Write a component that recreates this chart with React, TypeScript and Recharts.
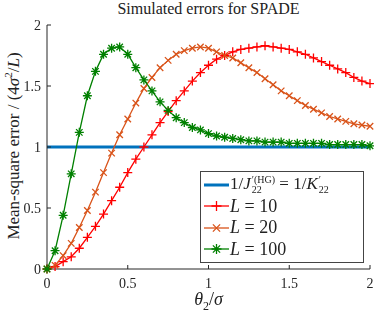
import React from 'react';
import { LineChart, Line, XAxis, YAxis } from 'recharts';

const thetas = [
  0, 0.05, 0.1, 0.15, 0.2, 0.25, 0.3, 0.35, 0.4, 0.45, 0.5, 0.55, 0.6, 0.65, 0.7, 0.75, 0.8, 0.85, 0.9, 0.95,
  1, 1.05, 1.1, 1.15, 1.2, 1.25, 1.3, 1.35, 1.4, 1.45, 1.5, 1.55, 1.6, 1.65, 1.7, 1.75, 1.8, 1.85, 1.9, 1.95, 2,
];
const bound = thetas.map(() => 1);
const errL10 = [
  0, 0.02, 0.06, 0.1, 0.17, 0.26, 0.35, 0.45, 0.56, 0.67, 0.79, 0.9, 1.0, 1.1, 1.2, 1.29, 1.38, 1.46, 1.54, 1.61,
  1.67, 1.72, 1.75, 1.78, 1.8, 1.81, 1.82, 1.83, 1.82, 1.81, 1.8, 1.78, 1.76, 1.73, 1.7, 1.67, 1.64, 1.61, 1.57, 1.54, 1.52,
];
const errL20 = [
  0, 0.03, 0.11, 0.21, 0.34, 0.48, 0.63, 0.79, 0.95, 1.1, 1.23, 1.36, 1.48, 1.57, 1.65, 1.71, 1.76, 1.79, 1.81, 1.82,
  1.81, 1.78, 1.75, 1.73, 1.69, 1.65, 1.61, 1.56, 1.51, 1.46, 1.42, 1.38, 1.34, 1.31, 1.28, 1.25, 1.23, 1.21, 1.19, 1.18, 1.17,
];
const errL100 = [
  0, 0.15, 0.44, 0.78, 1.12, 1.42, 1.62, 1.76, 1.81, 1.82, 1.76, 1.65, 1.55, 1.46, 1.37, 1.3, 1.24, 1.2, 1.16, 1.14,
  1.11, 1.09, 1.08, 1.07, 1.06, 1.05, 1.05, 1.04, 1.04, 1.04, 1.03, 1.03, 1.03, 1.03, 1.03, 1.02, 1.02, 1.02, 1.02, 1.02, 1.01,
];
const axisTicks = [0, 0.5, 1, 1.5, 2];

const data = thetas.map((t, i) => ({
  t,
  bound: bound[i],
  l10: errL10[i],
  l20: errL20[i],
  l100: errL100[i],
}));

const BLUE = '#0072BD';
const RED = '#FF0000';
const ORANGE = '#D95319';
const GREEN = '#008000';
const SERIF = '"Liberation Serif", "DejaVu Serif", serif';

type Marker = 'plus' | 'cross' | 'star';

function markerPath(kind: Marker, x: number, y: number, r: number) {
  const plus = `M${x - r},${y}H${x + r}M${x},${y - r}V${y + r}`;
  const d = r * 0.72;
  const cross = `M${x - d},${y - d}L${x + d},${y + d}M${x - d},${y + d}L${x + d},${y - d}`;
  if (kind === 'plus') return plus;
  if (kind === 'cross') return cross;
  return plus + cross;
}

const makeDot = (kind: Marker, color: string, r: number) => (props: any) => {
  const { cx, cy, index } = props;
  if (cx == null || cy == null) return <g key={index} />;
  return <path key={index} d={markerPath(kind, cx, cy, r)} stroke={color} strokeWidth={1.3} fill="none" />;
};

const legendRows = [
  { kind: 'line', color: BLUE },
  { kind: 'plus', color: RED, label: '10' },
  { kind: 'cross', color: ORANGE, label: '20' },
  { kind: 'star', color: GREEN, label: '100' },
];

const stack: React.CSSProperties = {
  display: 'inline-flex',
  flexDirection: 'column',
  verticalAlign: 'middle',
  lineHeight: '10px',
  fontSize: 10,
  fontStyle: 'normal',
  marginLeft: 1,
};

function LegendBox() {
  return (
    <div
      style={{
        position: 'absolute',
        left: 200,
        top: 171,
        width: 164,
        height: 92,
        border: '1px solid #444',
        background: '#fff',
        fontFamily: SERIF,
        fontSize: 18,
        padding: '2px 2px',
        boxSizing: 'border-box',
        color: '#222',
      }}
    >
      {legendRows.map((row, i) => (
        <div key={i} style={{ display: 'flex', alignItems: 'center', height: 21.5 }}>
          <svg width={27} height={16} style={{ flex: 'none' }}>
            {row.kind === 'line' ? (
              <line x1={1} x2={26} y1={8} y2={8} stroke={BLUE} strokeWidth={3} />
            ) : (
              <>
                <line x1={1} x2={26} y1={8} y2={8} stroke={row.color} strokeWidth={1.3} />
                <path d={markerPath(row.kind as Marker, 13.5, 8, 5)} stroke={row.color} strokeWidth={1.3} fill="none" />
              </>
            )}
          </svg>
          {row.kind === 'line' ? (
            <span style={{ whiteSpace: 'nowrap', fontSize: 17 }}>
              1/<i>J</i>
              <span style={stack}>
                <span>′(HG)</span>
                <span>22</span>
              </span>
              {' '}= 1/<i>K</i>
              <span style={stack}>
                <span>′</span>
                <span>22</span>
              </span>
            </span>
          ) : (
            <span style={{ whiteSpace: 'pre' }}>
              <i>L</i> = {row.label}
            </span>
          )}
        </div>
      ))}
    </div>
  );
}

export default function App() {
  return (
    <div style={{ position: 'fixed', left: 0, top: 0, width: 374, height: 313, background: '#fff', fontFamily: SERIF }}>
      <div style={{ position: 'absolute', top: 0, left: 47, width: 323, textAlign: 'center', fontSize: 16, color: '#222' }}>
        Simulated errors for SPADE
      </div>
      <div
        style={{
          position: 'absolute',
          left: 13,
          top: 146,
          transform: 'translate(-50%, -50%) rotate(-90deg)',
          whiteSpace: 'nowrap',
          fontSize: 17,
          color: '#222',
        }}
      >
        Mean-square error / (4<i>σ</i>
        <sup style={{ fontSize: 11 }}>2</sup>/<i>L</i>)
      </div>
      <div style={{ position: 'absolute', top: 289, left: 47, width: 323, textAlign: 'center', fontSize: 18, color: '#222' }}>
        <i>θ</i>
        <sub style={{ fontSize: 12 }}>2</sub>/<i>σ</i>
      </div>
      <LineChart width={374} height={313} data={data} margin={{ top: 25, right: 4, left: 0, bottom: 0 }}>
        <XAxis
          dataKey="t"
          type="number"
          domain={[0, 2]}
          ticks={axisTicks}
          height={44}
          tickSize={-4}
          tickMargin={13}
          stroke="#262626"
          tick={{ fill: '#262626', fontSize: 14, fontFamily: SERIF }}
          tickFormatter={(v) => String(v)}
        />
        <XAxis xAxisId="top" dataKey="t" type="number" domain={[0, 2]} ticks={axisTicks} orientation="top" height={0} tickSize={-4} tick={false} stroke="#262626" />
        <YAxis
          type="number"
          domain={[0, 2]}
          ticks={axisTicks}
          width={47}
          tickSize={-4}
          tickMargin={10}
          stroke="#262626"
          tick={{ fill: '#262626', fontSize: 14, fontFamily: SERIF }}
          tickFormatter={(v) => String(v)}
        />
        <YAxis yAxisId="right" type="number" domain={[0, 2]} ticks={axisTicks} orientation="right" width={0} tickSize={-4} tick={false} stroke="#262626" />
        <Line dataKey="bound" stroke={BLUE} strokeWidth={3} dot={false} isAnimationActive={false} />
        <Line dataKey="l10" stroke={RED} strokeWidth={1.3} dot={makeDot('plus', RED, 4.5)} isAnimationActive={false} />
        <Line dataKey="l20" stroke={ORANGE} strokeWidth={1.3} dot={makeDot('cross', ORANGE, 4.5)} isAnimationActive={false} />
        <Line dataKey="l100" stroke={GREEN} strokeWidth={1.3} dot={makeDot('star', GREEN, 4.5)} isAnimationActive={false} />
      </LineChart>
      <LegendBox />
    </div>
  );
}
